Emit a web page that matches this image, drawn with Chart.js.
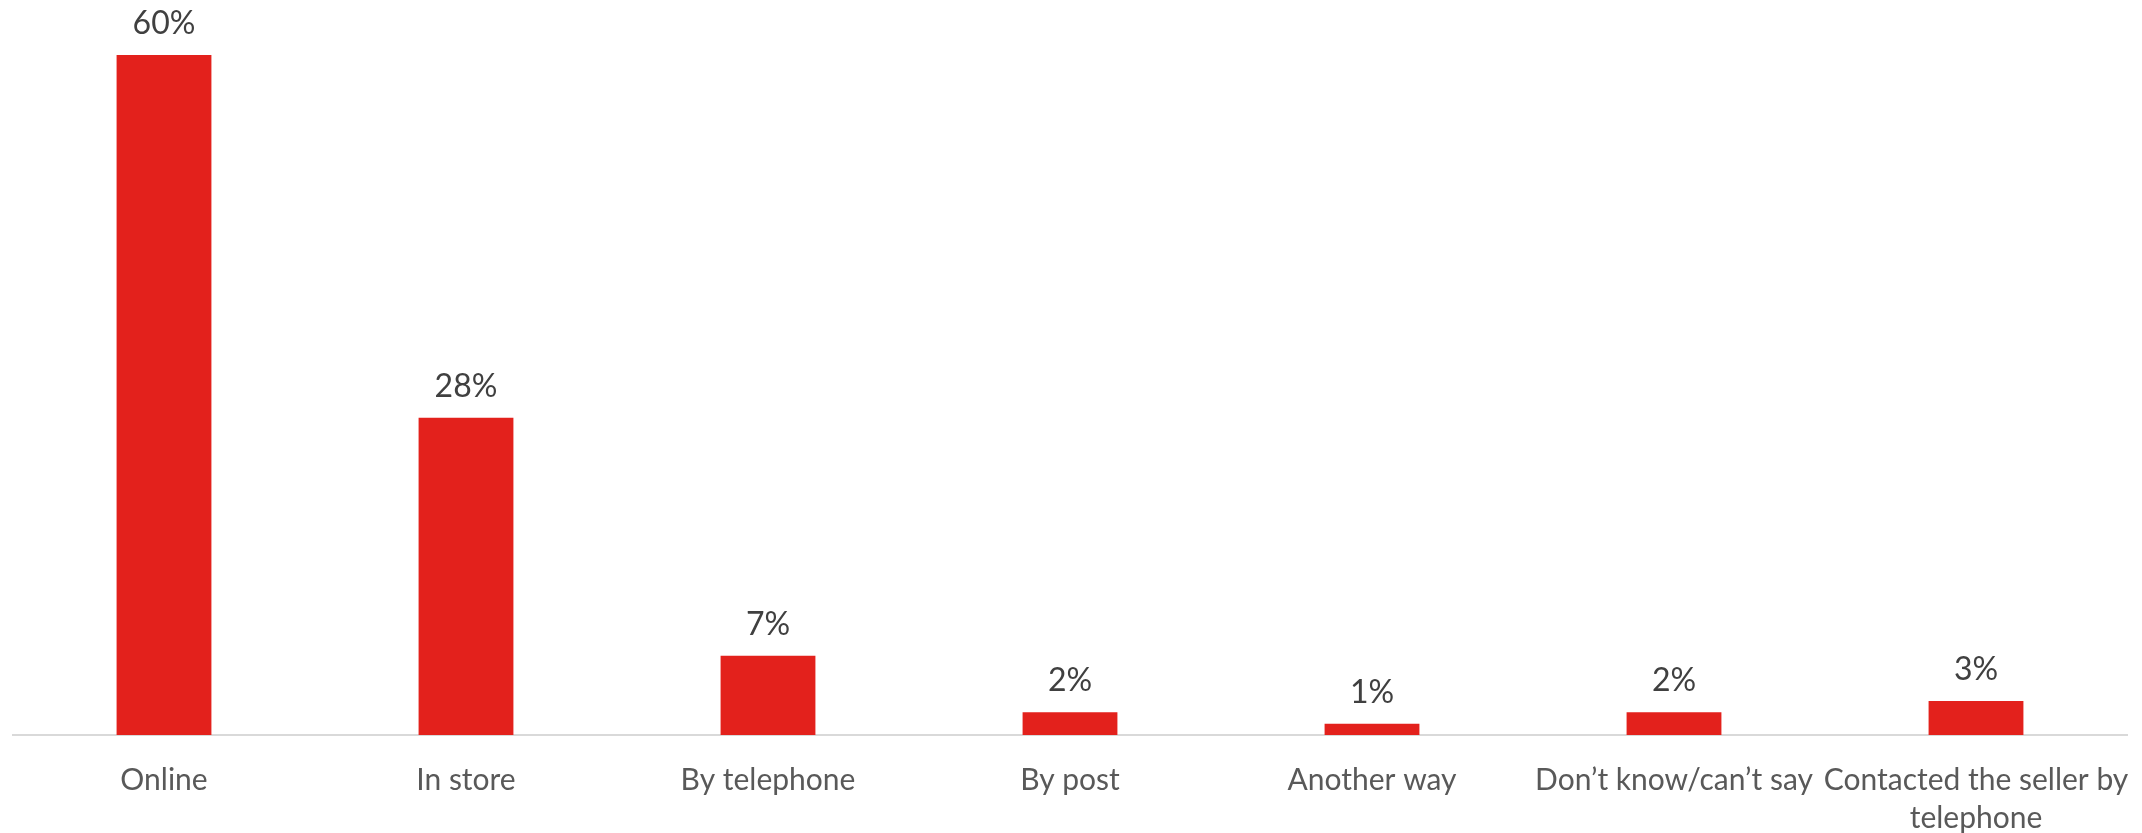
<!DOCTYPE html>
<html>
<head>
<meta charset="utf-8">
<title>How the purchase was made</title>
<script src="https://cdn.jsdelivr.net/npm/chart.js@4.4.1/dist/chart.umd.min.js"></script>
<style>
  html, body { margin: 0; padding: 0; background: #ffffff; overflow: hidden; }
  #wrap { width: 2142px; height: 833px; position: relative; }
</style>
</head>
<body>
<div id="wrap"><canvas id="chart" width="2142" height="833"></canvas></div>
<script>
// Purchase channels, share of respondents (%)
const categories = [
  "Online",
  "In store",
  "By telephone",
  "By post",
  "Another way",
  "Don\u2019t know/can\u2019t say",
  ["Contacted the seller by", "telephone"]
];
const shares = [60, 28, 7, 2, 1, 2, 3];
const valueLabels = shares.map(v => v + "%");

const FONT = "Lato, 'Open Sans', sans-serif";

// Writes each bar's value just above it
const barValueLabels = {
  id: "barValueLabels",
  afterDatasetsDraw(chart) {
    const ctx = chart.ctx;
    const meta = chart.getDatasetMeta(0);
    ctx.save();
    ctx.font = "32px " + FONT;
    ctx.fillStyle = "#404040";
    ctx.textAlign = "center";
    ctx.textBaseline = "alphabetic";
    meta.data.forEach((bar, i) => {
      ctx.fillText(valueLabels[i], bar.x, bar.y - 21);
    });
    ctx.restore();
  }
};

function draw() {
  new Chart(document.getElementById("chart"), {
    type: "bar",
    data: {
      labels: categories,
      datasets: [{
        data: shares,
        backgroundColor: "#E3211C",
        borderWidth: 0,
        categoryPercentage: 1.0,
        barPercentage: 0.314
      }]
    },
    options: {
      responsive: false,
      animation: false,
      layout: { padding: { left: 13, right: 15, top: 55, bottom: 0 } },
      plugins: {
        legend: { display: false },
        tooltip: { enabled: false }
      },
      scales: {
        x: {
          grid: { display: false, drawTicks: false },
          border: { display: true, color: "#D9D9D9", width: 2 },
          ticks: {
            color: "#595959",
            font: { family: FONT, size: 30, lineHeight: 38 / 30 },
            padding: 26,
            maxRotation: 0,
            autoSkip: false
          },
          afterFit(scale) {
            // fixed axis band; edge labels may run into the side margins
            scale.height = 98;
            scale.paddingLeft = 0;
            scale.paddingRight = 0;
          }
        },
        y: {
          display: false,
          min: 0,
          max: 60
        }
      }
    },
    plugins: [barValueLabels]
  });
}

if (document.fonts && document.fonts.load) {
  Promise.all([
    document.fonts.load("30px Lato"),
    document.fonts.load("32px Lato")
  ]).then(draw, draw);
} else {
  draw();
}
</script>
</body>
</html>
